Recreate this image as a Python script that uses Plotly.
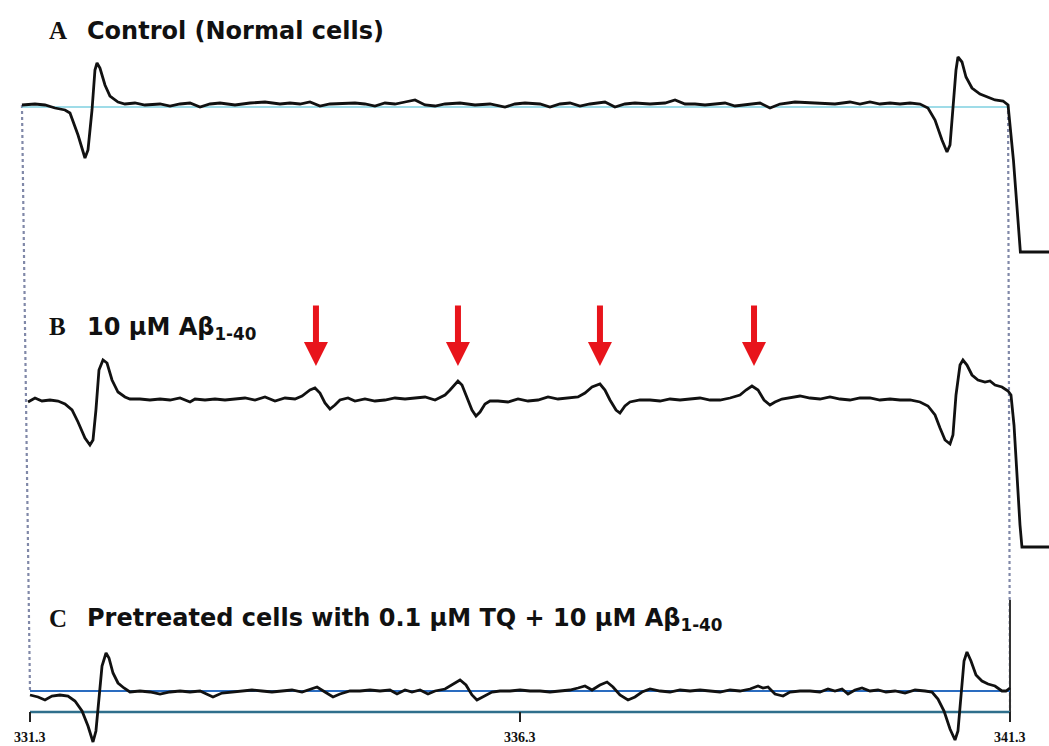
import plotly.graph_objects as go

# ---------------- data (field in mT, amplitude in arbitrary units) ----------------
field_A = [331.218, 331.351, 331.453, 331.555, 331.657, 331.708, 331.790, 331.861, 331.892, 331.933,
           331.963, 331.984, 332.014, 332.065, 332.116, 332.198, 332.269, 332.371, 332.473, 332.627,
           332.729, 332.831, 332.933, 333.035, 333.137, 333.239, 333.392, 333.545, 333.698, 333.851,
           333.953, 334.055, 334.157, 334.259, 334.361, 334.514, 334.616, 334.718, 334.820, 334.922,
           335.024, 335.127, 335.229, 335.331, 335.433, 335.535, 335.688, 335.841, 335.994, 336.147,
           336.249, 336.351, 336.504, 336.606, 336.708, 336.810, 336.912, 337.014, 337.167, 337.269,
           337.371, 337.473, 337.627, 337.780, 337.882, 337.984, 338.086, 338.188, 338.290, 338.392,
           338.494, 338.647, 338.749, 338.851, 338.953, 339.106, 339.259, 339.361, 339.514, 339.667,
           339.769, 339.871, 339.973, 340.076, 340.178, 340.280, 340.382, 340.463, 340.535, 340.606,
           340.657, 340.688, 340.718, 340.749, 340.769, 340.810, 340.851, 340.912, 340.994, 341.076,
           341.147, 341.229, 341.280, 341.335, 341.376, 341.406, 341.698]
signal_A = [0, 1, 0, -3, -5, -8, -30, -53, -45, -5,
            35, 42, 37, 20, 9, 3, 1, 2, 0, 1,
            -1, 1, 2, -2, 1, 2, 0, 2, 3, 1,
            2, 1, 3, -1, 1, 2, 2, 1, -1, 2,
            1, 3, 5, 0, -1, 1, 2, 0, 1, -2,
            1, 2, 1, -2, 1, 2, -1, 1, 3, -2,
            1, 2, 1, 2, 5, 1, 1, 0, 1, 2,
            -1, 1, 2, -3, 1, 3, 2, 2, 1, 3,
            1, 3, 1, 2, 1, 2, 1, -3, -15, -35,
            -47, -40, -5, 35, 48, 43, 28, 17, 11, 8,
            5, 4, 0, -55, -110, -147, -147]

field_B = [331.280, 331.351, 331.422, 331.504, 331.586, 331.657, 331.729, 331.790, 331.861, 331.912,
           331.943, 331.973, 332.004, 332.045, 332.086, 332.137, 332.198, 332.269, 332.320, 332.422,
           332.524, 332.627, 332.729, 332.831, 332.933, 332.984, 333.086, 333.188, 333.290, 333.392,
           333.494, 333.596, 333.698, 333.800, 333.902, 334.004, 334.076, 334.157, 334.208, 334.259,
           334.310, 334.361, 334.412, 334.463, 334.545, 334.616, 334.718, 334.820, 334.922, 335.024,
           335.127, 335.229, 335.331, 335.433, 335.535, 335.586, 335.637, 335.667, 335.708, 335.759,
           335.810, 335.851, 335.892, 335.943, 335.994, 336.076, 336.178, 336.280, 336.382, 336.484,
           336.586, 336.688, 336.790, 336.892, 336.963, 337.035, 337.116, 337.167, 337.218, 337.280,
           337.320, 337.371, 337.422, 337.524, 337.627, 337.729, 337.831, 337.933, 338.035, 338.137,
           338.239, 338.341, 338.443, 338.545, 338.606, 338.667, 338.729, 338.790, 338.851, 338.902,
           338.973, 339.055, 339.157, 339.259, 339.361, 339.463, 339.565, 339.667, 339.769, 339.871,
           339.973, 340.076, 340.178, 340.280, 340.382, 340.463, 340.535, 340.586, 340.637, 340.688,
           340.718, 340.749, 340.790, 340.820, 340.861, 340.912, 340.973, 341.045, 341.096, 341.147,
           341.218, 341.280, 341.310, 341.341, 341.371, 341.402, 341.422, 341.698]
signal_B = [-2, 2, -1, 0, -1, -4, -10, -22, -38, -45,
            -40, -10, 30, 40, 37, 20, 8, 3, 1, 1,
            0, 1, 0, 2, -2, 1, 0, 1, 0, 1,
            2, 0, 3, -1, 2, 1, 4, 10, 12, 7,
            -3, -9, -5, 0, 2, -1, 1, -1, 0, 2,
            1, 2, 3, 0, 5, 10, 16, 19, 15, 2,
            -10, -16, -12, -4, -1, -1, -2, 1, -1, 0,
            3, 1, 2, 3, 7, 13, 16, 10, 0, -10,
            -13, -6, -2, 0, 0, -1, 1, 0, 1, 2,
            0, 0, 2, 5, 10, 14, 10, 0, -5, -2,
            1, 2, 4, 2, 1, 3, 1, 0, 2, 2,
            0, 1, 0, 0, -2, -6, -15, -28, -40, -44,
            -35, 5, 35, 40, 35, 25, 20, 18, 19, 15,
            13, 9, 5, -25, -80, -125, -147, -147]

field_C = [331.300, 331.382, 331.453, 331.524, 331.606, 331.688, 331.759, 331.831, 331.892, 331.943,
           331.973, 332.004, 332.035, 332.076, 332.106, 332.147, 332.198, 332.259, 332.320, 332.422,
           332.524, 332.627, 332.729, 332.831, 332.933, 333.035, 333.167, 333.259, 333.361, 333.463,
           333.565, 333.667, 333.769, 333.871, 333.973, 334.076, 334.157, 334.229, 334.310, 334.392,
           334.463, 334.565, 334.667, 334.769, 334.871, 334.973, 335.045, 335.127, 335.198, 335.280,
           335.361, 335.433, 335.535, 335.606, 335.688, 335.749, 335.810, 335.861, 335.933, 336.014,
           336.096, 336.198, 336.300, 336.402, 336.504, 336.606, 336.708, 336.810, 336.892, 336.963,
           337.035, 337.116, 337.188, 337.249, 337.320, 337.402, 337.473, 337.545, 337.627, 337.729,
           337.831, 337.933, 338.035, 338.137, 338.239, 338.341, 338.443, 338.545, 338.647, 338.729,
           338.780, 338.831, 338.902, 338.984, 339.055, 339.157, 339.259, 339.361, 339.443, 339.514,
           339.586, 339.647, 339.718, 339.790, 339.871, 339.953, 340.035, 340.127, 340.229, 340.331,
           340.433, 340.504, 340.565, 340.627, 340.688, 340.739, 340.769, 340.800, 340.831, 340.861,
           340.902, 340.953, 341.014, 341.076, 341.147, 341.218, 341.259, 341.300]
signal_C = [-4, -6, -9, -5, -4, -5, -10, -20, -35, -51,
            -40, -5, 25, 38, 33, 18, 8, 3, -1, 0,
            -1, -3, -1, 0, -1, 0, -6, -2, -1, 0,
            1, 0, -1, 0, 1, -1, 2, 4, -1, -6,
            -3, 0, 0, 1, 0, 1, -3, 1, -1, 1,
            -3, 0, 2, 6, 11, 6, -4, -9, -5, -1,
            0, 0, 1, 0, 0, -1, 0, 1, 3, 5,
            1, 6, 9, 4, -4, -9, -6, -1, 2, 0,
            -1, 1, 0, 1, 0, -1, 1, 0, 2, 5,
            3, 4, -3, -5, -1, 0, 0, -1, 2, 0,
            2, -3, 1, 3, 0, 1, -1, 0, -2, 1,
            0, -1, -8, -20, -38, -49, -40, -5, 30, 39,
            30, 16, 10, 7, 5, 0, 0, 3]

panel_letters = ["A", "B", "C"]
panel_titles = ["Control (Normal cells)",
                "10 μM Aβ<sub>1-40</sub>",
                "Pretreated cells with 0.1 μM TQ + 10 μM Aβ<sub>1-40</sub>"]
arrow_fields = [334.218, 335.667, 337.116, 338.688]
tick_vals = [331.3, 336.3, 341.3]
tick_text = ["331.3", "336.3", "341.3"]

# ---------------- layout constants ----------------
W, H = 1049, 746
X0, X1 = 330.994, 341.698
OFF_A, OFF_B, OFF_C = -105, -400, -691
AXIS_Y = -712

fig = go.Figure()

def line(xs, ys, color, width, dash="solid"):
    fig.add_trace(go.Scatter(x=xs, y=ys, mode="lines", hoverinfo="skip",
                             line=dict(color=color, width=width, dash=dash)))

# guide lines
line([331.218, 331.300], [OFF_A, OFF_C], "#8088a8", 2.2, "dot")
line([341.280, 341.300], [OFF_A, AXIS_Y], "#8088a8", 2.2, "dot")
line([341.300, 341.300], [-600, AXIS_Y - 10], "#333333", 2)
line([331.218, 341.280], [OFF_A - 2, OFF_A - 2], "#7fd0e0", 1.5)
line([331.300, 341.300], [OFF_C, OFF_C], "#2a6cc0", 2)
line([331.300, 341.300], [AXIS_Y, AXIS_Y], "#2f6f8c", 2.5)
for tv in tick_vals:
    line([tv, tv], [AXIS_Y, AXIS_Y - 10], "#222222", 2)

# spectra
line(field_A, [OFF_A + v for v in signal_A], "#111111", 2.8)
line(field_B, [OFF_B + v for v in signal_B], "#111111", 2.8)
line(field_C, [OFF_C + v for v in signal_C], "#111111", 2.8)

annotations = []
letter_y = [30, 327, 618]
for letter, title, py in zip(panel_letters, panel_titles, letter_y):
    annotations.append(dict(x=47 / W, y=1 - py / H, xref="paper", yref="paper",
                            text=f"<b>{letter}</b>", showarrow=False, xanchor="left", yanchor="middle",
                            font=dict(family="Liberation Serif, Times New Roman, serif", size=25, color="#111111")))
    annotations.append(dict(x=85 / W, y=1 - (py + 1) / H, xref="paper", yref="paper",
                            text=f"<b>{title}</b>", showarrow=False, xanchor="left", yanchor="middle",
                            font=dict(family="DejaVu Sans, sans-serif", size=24, color="#111111")))

for af in arrow_fields:
    annotations.append(dict(x=af, y=-366, xref="x", yref="y", ax=af, ay=-304, axref="x", ayref="y",
                            text="", showarrow=True, arrowhead=2, arrowsize=0.8, arrowwidth=6,
                            arrowcolor="#e8141b", standoff=0, startstandoff=0))

for tv, tt in zip(tick_vals, tick_text):
    annotations.append(dict(x=tv, y=-737, xref="x", yref="y", text=f"<b>{tt}</b>", showarrow=False,
                            xanchor="center", yanchor="middle",
                            font=dict(family="Liberation Serif, Times New Roman, serif", size=14, color="#111111")))

fig.update_layout(
    width=W, height=H, margin=dict(l=0, r=0, t=0, b=0),
    paper_bgcolor="white", plot_bgcolor="white", showlegend=False,
    xaxis=dict(range=[X0, X1], visible=False, fixedrange=True),
    yaxis=dict(range=[-H, 0], visible=False, fixedrange=True),
    annotations=annotations,
)

fig.write_html("out.html", config={"displayModeBar": False},
               post_script="document.body.style.margin='0px';document.body.style.padding='0px';document.body.style.overflow='hidden';")
